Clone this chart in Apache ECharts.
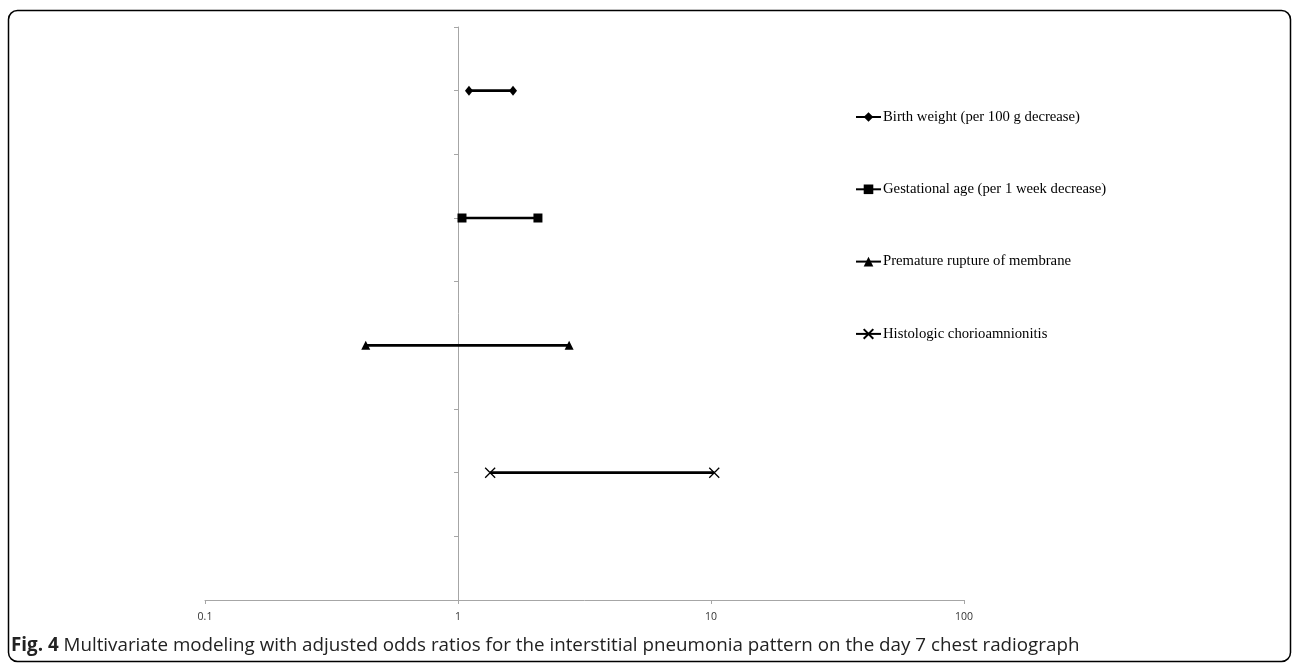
<!DOCTYPE html>
<html>
<head>
<meta charset="utf-8">
<script src="https://cdn.jsdelivr.net/npm/echarts@6/dist/echarts.min.js"></script>
<style>
html,body{margin:0;padding:0;background:#fff;}
#main{width:1293px;height:664px;}
</style>
</head>
<body>
<div id="main"></div>
<script>
// ---- data ----
const seriesNames = [
  'Birth weight (per 100 g decrease)',
  'Gestational age (per 1 week decrease)',
  'Premature rupture of membrane',
  'Histologic chorioamnionitis'
];
const rowPositions = [8, 6, 4, 2];
const lowerCI = [1.105, 1.037, 0.432, 1.34];
const upperCI = [1.65, 2.07, 2.75, 10.3];
const xTickLabels = ['0.1', '1', '10', '100'];
const captionBold = 'Fig. 4';
const captionText = 'Multivariate modeling with adjusted odds ratios for the interstitial pneumonia pattern on the day 7 chest radiograph';

const symbols = [
  'diamond',
  'rect',
  'triangle',
  'path://M0,0L10,10M10,0L0,10'
];
const symbolSizes = [[8, 10], 9, 9, 10];

const W = 1293, H = 664;
const grid = {left: 205, right: 329, top: 27, bottom: 64};
const gridW = W - grid.left - grid.right;
const xMin = Number(xTickLabels[0]), xMax = Number(xTickLabels[xTickLabels.length - 1]);
const yAxisOffset = -gridW * (Math.log10(1) - Math.log10(xMin)) / (Math.log10(xMax) - Math.log10(xMin));

const series = seriesNames.map((name, i) => {
  const isCross = i === 3;
  return {
    name: name,
    type: 'line',
    data: [[lowerCI[i], rowPositions[i]], [upperCI[i], rowPositions[i]]],
    symbol: symbols[i],
    symbolSize: symbolSizes[i],
    showSymbol: true,
    lineStyle: {color: '#000', width: 2.6},
    itemStyle: isCross
      ? {color: 'none', borderColor: '#000', borderWidth: 1.3}
      : {color: '#000'},
    emphasis: {disabled: true},
    animation: false,
    z: 3
  };
});

const chart = echarts.init(document.getElementById('main'), null, {renderer: 'canvas'});
chart.setOption({
  animation: false,
  backgroundColor: '#fff',
  grid: grid,
  title: {
    left: 11,
    top: 636,
    padding: 0,
    text: '{b|' + captionBold + '} ' + captionText,
    textStyle: {
      fontFamily: 'Open Sans',
      fontSize: 18.8,
      fontWeight: 'normal',
      color: '#222',
      rich: {
        b: {fontFamily: 'Open Sans', fontSize: 18.8, fontWeight: 'bold', color: '#222'}
      }
    }
  },
  legend: {
    orient: 'vertical',
    left: 855,
    top: 109.5,
    padding: 0,
    itemWidth: 25,
    itemHeight: 12,
    itemGap: 57.3,
    selectedMode: false,
    textStyle: {fontFamily: 'Liberation Serif', fontSize: 14.7, lineHeight: 15, color: '#000', padding: [0, 0, 0, -3]},
    data: seriesNames
  },
  xAxis: {
    type: 'log',
    logBase: 10,
    min: xMin,
    max: xMax,
    axisLine: {lineStyle: {color: '#a6a6a6', width: 1}},
    axisTick: {show: true, length: 4, lineStyle: {color: '#a6a6a6'}},
    minorTick: {show: false},
    splitLine: {show: false},
    axisLabel: {
      fontFamily: 'Open Sans',
      fontSize: 10.5,
      color: '#333',
      margin: 12,
      formatter: function (v) {
        const idx = Math.round(Math.log10(v) - Math.log10(xMin));
        return xTickLabels[idx] !== undefined ? xTickLabels[idx] : '';
      }
    }
  },
  yAxis: {
    type: 'value',
    min: 0,
    max: 9,
    interval: 1,
    position: 'left',
    offset: yAxisOffset,
    axisLine: {show: true, lineStyle: {color: '#a6a6a6', width: 1}},
    axisTick: {show: true, length: 4, lineStyle: {color: '#a6a6a6'}},
    axisLabel: {show: false},
    splitLine: {show: false}
  },
  graphic: [{
    type: 'rect',
    shape: {x: 8.5, y: 10.5, width: 1282, height: 651, r: 9},
    style: {fill: 'none', stroke: '#000', lineWidth: 1.5},
    silent: true,
    z: 10
  }],
  series: series
});
</script>
</body>
</html>
